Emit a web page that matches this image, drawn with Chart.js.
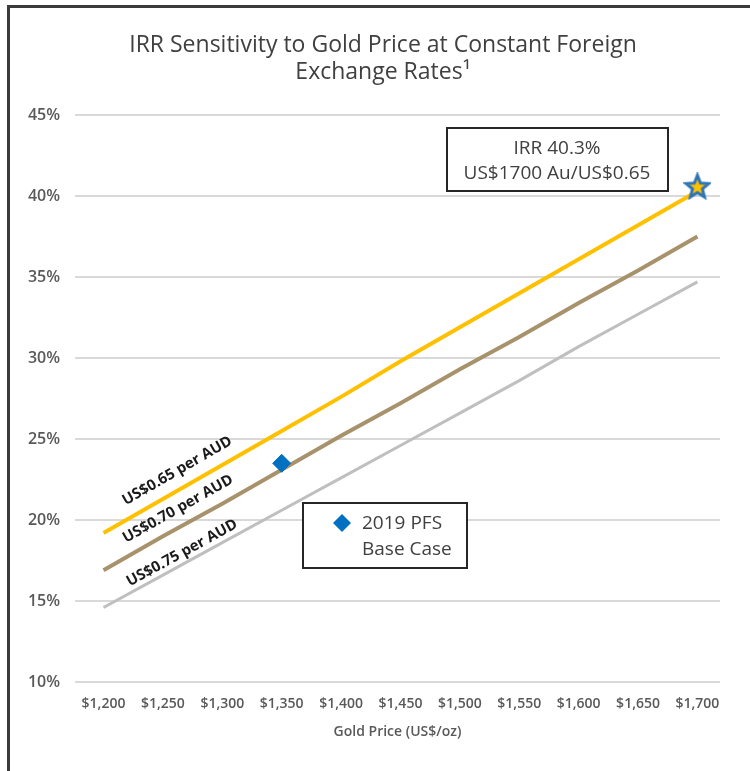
<!DOCTYPE html>
<html lang="en">
<head>
  <meta charset="UTF-8" />
  <title>IRR Sensitivity to Gold Price</title>
  <script src="https://cdn.jsdelivr.net/npm/chart.js"></script>
  <style>
    html, body {
      margin: 0;
      padding: 0;
      background: #ffffff;
      overflow: hidden;
    }

    .wrap {
      position: relative;
      width: 750px;
      height: 771px;
    }

    .frame {
      position: absolute;
      left: 7px;
      top: 5px;
      right: 0;
      bottom: 0;
      border-top: 3px solid #3b3b3b;
      border-left: 3px solid #3b3b3b;
      pointer-events: none;
    }

    canvas {
      position: absolute;
      left: 0;
      top: 0;
    }
  </style>
</head>

<body>
  <div class="wrap">
    <canvas id="irrChart" width="750" height="771"></canvas>
    <div class="frame"></div>
  </div>

  <script>
    // gold price (US$/oz) on the x axis
    const goldPrices = [1200, 1250, 1300, 1350, 1400, 1450, 1500, 1550, 1600, 1650, 1700];

    // IRR (%) per exchange rate
    const irrAt065 = [19.2, 21.3, 23.4, 25.5, 27.6, 29.8, 31.9, 34.0, 36.1, 38.2, 40.3];
    const irrAt070 = [16.9, 19.0, 21.0, 23.1, 25.2, 27.2, 29.3, 31.3, 33.4, 35.4, 37.5];
    const irrAt075 = [14.6, 16.6, 18.6, 20.6, 22.6, 24.6, 26.6, 28.6, 30.7, 32.7, 34.7];

    const seriesLabels = ["US$0.65 per AUD", "US$0.70 per AUD", "US$0.75 per AUD"];

    // highlighted points
    const baseCase = { x: 1350, y: 23.5 };
    const bestCase = { x: 1700, y: 40.6 };

    const yTicks = [10, 15, 20, 25, 30, 35, 40, 45];

    const titleLines = ["IRR Sensitivity to Gold Price at Constant Foreign", "Exchange Rates\u00B9"];

    const FONT = "'Open Sans', sans-serif";
    const GREY_TEXT = "#595959";

    const toPoints = (vals) => vals.map((v, i) => ({ x: goldPrices[i], y: v }));

    // five point star used as the marker at US$1700
    const makeStar = () => {
      const c = document.createElement("canvas");
      c.width = 28;
      c.height = 28;
      const g = c.getContext("2d");
      const cx = 14, cy = 15, R = 12, r = 5.2;
      g.beginPath();
      for (let i = 0; i < 10; i++) {
        const rad = (i % 2 === 0) ? R : r;
        const a = -Math.PI / 2 + i * Math.PI / 5;
        g.lineTo(cx + rad * Math.cos(a), cy + rad * Math.sin(a));
      }
      g.closePath();
      g.fillStyle = "#FFC000";
      g.fill();
      g.lineWidth = 3;
      g.strokeStyle = "#2E75B6";
      g.stroke();
      return c;
    };

    // title is drawn by hand: in the original it sits a bit right of the canvas centre
    const chartTitle = {
      id: "chartTitle",
      afterDraw(chart) {
        const { ctx } = chart;
        ctx.save();
        ctx.font = "23px " + FONT;
        ctx.fillStyle = "#404040";
        ctx.textAlign = "center";
        ctx.textBaseline = "middle";
        ctx.fillText(titleLines[0], 383, 45);
        ctx.fillText(titleLines[1], 383, 72);
        ctx.restore();
      }
    };

    // rotated labels sitting on top of each line
    const lineLabels = {
      id: "lineLabels",
      afterDatasetsDraw(chart) {
        const { ctx } = chart;
        const offsets = [17, 17, 10];
        ctx.save();
        ctx.font = "bold 15px " + FONT;
        ctx.fillStyle = "#1a1a1a";
        ctx.textAlign = "center";
        ctx.textBaseline = "middle";
        [0, 1, 2].forEach(i => {
          const pts = chart.getDatasetMeta(i).data;
          const p0 = pts[0], p1 = pts[pts.length - 1];
          const ang = Math.atan2(p1.y - p0.y, p1.x - p0.x);
          const ux = Math.cos(ang), uy = Math.sin(ang);
          const nx = uy, ny = -ux;
          const along = 95;
          const cx = p0.x + ux * along + nx * offsets[i];
          const cy = p0.y + uy * along + ny * offsets[i];
          ctx.save();
          ctx.translate(cx, cy);
          ctx.rotate(ang);
          ctx.fillText(seriesLabels[i], 0, 0);
          ctx.restore();
        });
        ctx.restore();
      }
    };

    // the two callout boxes
    const callouts = {
      id: "callouts",
      afterDatasetsDraw(chart) {
        const { ctx } = chart;
        ctx.save();

        const box = (x, y, w, h) => {
          ctx.fillStyle = "#ffffff";
          ctx.fillRect(x, y, w, h);
          ctx.lineWidth = 2;
          ctx.strokeStyle = "#262626";
          ctx.strokeRect(x, y, w, h);
        };

        ctx.font = "19px " + FONT;
        ctx.textBaseline = "middle";

        box(447, 128, 221, 63);
        ctx.fillStyle = "#404040";
        ctx.textAlign = "center";
        ctx.fillText("IRR 40.3%", 557, 149);
        ctx.fillText("US$1700 Au/US$0.65", 557, 174);

        box(303, 503, 164, 65);
        ctx.fillStyle = "#0070C0";
        ctx.beginPath();
        ctx.moveTo(342, 514);
        ctx.lineTo(351, 523);
        ctx.lineTo(342, 532);
        ctx.lineTo(333, 523);
        ctx.closePath();
        ctx.fill();
        ctx.fillStyle = "#404040";
        ctx.textAlign = "left";
        ctx.fillText("2019 PFS", 362, 524);
        ctx.fillText("Base Case", 362, 550);

        ctx.restore();
      }
    };

    new Chart(document.getElementById("irrChart"), {
      type: "line",
      data: {
        datasets: [
          {
            label: seriesLabels[0],
            data: toPoints(irrAt065),
            borderColor: "#FFC000",
            borderWidth: 4,
            pointRadius: 0,
            order: 3
          },
          {
            label: seriesLabels[1],
            data: toPoints(irrAt070),
            borderColor: "#A8926C",
            borderWidth: 4,
            pointRadius: 0,
            order: 4
          },
          {
            label: seriesLabels[2],
            data: toPoints(irrAt075),
            borderColor: "#BFBFBF",
            borderWidth: 3,
            pointRadius: 0,
            order: 5
          },
          {
            label: "2019 PFS Base Case",
            data: [baseCase],
            showLine: false,
            pointStyle: "rectRot",
            pointRadius: 9,
            backgroundColor: "#0070C0",
            borderColor: "#0070C0",
            order: 1
          },
          {
            label: "IRR 40.3%",
            data: [bestCase],
            showLine: false,
            pointStyle: makeStar(),
            order: 0
          }
        ]
      },
      options: {
        responsive: false,
        animation: false,
        layout: { padding: { left: 0, right: 30, top: 115, bottom: 0 } },
        plugins: {
          legend: { display: false },
          tooltip: { enabled: false },
          title: { display: false }
        },
        scales: {
          x: {
            type: "linear",
            min: 1176,
            max: 1719,
            grid: { display: false, drawTicks: false },
            border: { display: false },
            afterBuildTicks: axis => { axis.ticks = goldPrices.map(v => ({ value: v })); },
            afterFit: axis => { axis.height = 89; },
            ticks: {
              color: GREY_TEXT,
              padding: 14,
              maxRotation: 0,
              autoSkip: false,
              font: { family: FONT, size: 14, weight: "600" },
              callback: v => "$" + v.toLocaleString("en-US")
            },
            title: {
              display: true,
              text: "Gold Price (US$/oz)",
              color: GREY_TEXT,
              font: { family: FONT, size: 14, weight: "600" },
              padding: { top: 6, bottom: 31 }
            }
          },
          y: {
            min: 10,
            max: 45,
            grid: { color: "#D9D9D9", lineWidth: 2, drawTicks: false },
            border: { display: false },
            afterBuildTicks: axis => { axis.ticks = yTicks.map(v => ({ value: v })); },
            afterFit: axis => { axis.width = 75; },
            ticks: {
              color: GREY_TEXT,
              padding: 15,
              font: { family: FONT, size: 16, weight: "600" },
              callback: v => v + "%"
            }
          }
        }
      },
      plugins: [chartTitle, lineLabels, callouts]
    });
  </script>
</body>
</html>
